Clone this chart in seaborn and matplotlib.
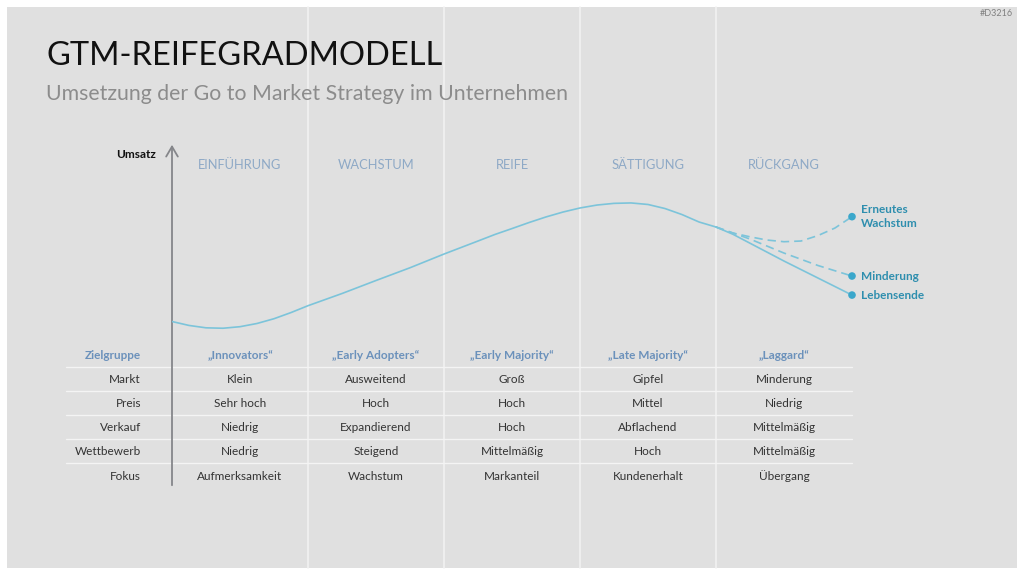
import matplotlib
matplotlib.use("Agg")
import matplotlib.pyplot as plt
import matplotlib.transforms as mtrans
import seaborn as sns

# ---------------- data ----------------
phases = ["EINFÜHRUNG", "WACHSTUM", "REIFE", "SÄTTIGUNG", "RÜCKGANG"]
zielgruppen = ["„Innovators“", "„Early Adopters“", "„Early Majority“", "„Late Majority“", "„Laggard“"]
row_labels = ["Markt", "Preis", "Verkauf", "Wettbewerb", "Fokus"]
table_values = [
    ["Klein", "Ausweitend", "Groß", "Gipfel", "Minderung"],
    ["Sehr hoch", "Hoch", "Hoch", "Mittel", "Niedrig"],
    ["Niedrig", "Expandierend", "Hoch", "Abflachend", "Mittelmäßig"],
    ["Niedrig", "Steigend", "Mittelmäßig", "Hoch", "Mittelmäßig"],
    ["Aufmerksamkeit", "Wachstum", "Markanteil", "Kundenerhalt", "Übergang"],
]

# main sales curve (time in phase units, Umsatz index)
main_t = [0, 0.125, 0.25, 0.375, 0.5, 0.625, 0.75, 0.875, 1.0, 1.25, 1.5, 1.75, 2.0, 2.25,
          2.375, 2.5, 2.625, 2.75, 2.875, 3.0, 3.125, 3.25, 3.375, 3.5, 3.625, 3.75, 3.875, 4.0]
main_v = [13.2, 10.4, 8.7, 8.4, 9.5, 11.8, 15.2, 19.6, 24.5, 33.2, 42.5, 51.6, 61.4, 70.7,
          75.4, 79.6, 83.9, 87.9, 91.4, 94.3, 96.4, 97.6, 97.9, 96.8, 93.9, 89.6, 84.3, 80.7]

# branches after the saturation phase
leb_t = [4.0, 4.125, 4.5, 5.0]
leb_v = [80.7, 75.5, 56.4, 32.1]
min_t = [4.0, 4.25, 4.5, 4.75, 5.0]
min_v = [80.7, 72.1, 62.1, 53.2, 45.7]
ern_t = [4.0, 4.125, 4.25, 4.375, 4.5, 4.625, 4.75, 4.875, 5.0]
ern_v = [80.7, 76.4, 73.7, 71.4, 70.2, 70.7, 74.6, 80.0, 88.1]

end_labels = ["Erneutes\nWachstum", "Minderung", "Lebensende"]
end_t = [5.0, 5.0, 5.0]
end_v = [88.1, 45.7, 32.1]

# ---------------- styling ----------------
sns.set_theme(style="white")
plt.rcParams["font.family"] = ["Lato", "DejaVu Sans"]

PANEL = "#e0e0e0"
LINE = "#7cc4da"
DOT = "#3ba7cb"
LABEL = "#2e8eae"
PHASE = "#8ea9c6"
HEAD = "#6b91bb"
TEXT = "#333333"

fig = plt.figure(figsize=(10.24, 5.76), dpi=100)
fig.patch.set_facecolor("white")

# layout axes in pixel units
bg = fig.add_axes([0, 0, 1, 1])
bg.set_xlim(0, 1024)
bg.set_ylim(576, 0)
bg.axis("off")
bg.add_patch(plt.Rectangle((7, 7), 1010, 561, facecolor=PANEL, edgecolor="none", zorder=0))

# chart axes: x = phase units (0..5), y = Umsatz index
ax = fig.add_axes([172 / 1024, (576 - 340) / 576, 680 / 1024, 140 / 576])
ax.set_xlim(0, 5)
ax.set_ylim(0, 100)
ax.axis("off")
ax.patch.set_alpha(0)

blend = mtrans.blended_transform_factory(ax.transData, bg.transData)

# phase separators
for b in range(1, 5):
    bg.plot([b, b], [7, 568], color="#f2f2f2", lw=1.2, transform=blend, zorder=1)

# table separator lines
for y in [367, 391, 415, 439, 463]:
    bg.plot([66, 852], [y, y], color="#f4f4f4", lw=1.0, zorder=1)

# axis arrow
bg.annotate("", xy=(172, 142), xytext=(172, 488),
            arrowprops=dict(arrowstyle="->,head_length=0.6,head_width=0.35", color="#85868a", lw=1.3),
            zorder=3)
bg.text(156, 155, "Umsatz", ha="right", va="center", fontsize=8.5, fontweight="bold", color="#111111")

# title
bg.text(46, 56, "GTM-REIFEGRADMODELL", ha="left", va="center", fontsize=23.5, color="#111111")
bg.text(46, 94.5, "Umsetzung der Go to Market Strategy im Unternehmen", ha="left", va="center",
        fontsize=15.3, color="#8c8c8c")
bg.text(1013, 13, "#D3216", ha="right", va="center", fontsize=6.5, color="#808080")

# curves
sns.lineplot(x=main_t, y=main_v, ax=ax, color=LINE, lw=1.2, zorder=4)
sns.lineplot(x=leb_t, y=leb_v, ax=ax, color=LINE, lw=1.2, zorder=4)
sns.lineplot(x=min_t, y=min_v, ax=ax, color=LINE, lw=1.2, zorder=4, linestyle=(0, (5, 3)))
sns.lineplot(x=ern_t, y=ern_v, ax=ax, color=LINE, lw=1.2, zorder=4, linestyle=(0, (5, 3)))
sns.scatterplot(x=end_t, y=end_v, ax=ax, color=DOT, s=30, edgecolor="none", zorder=5, clip_on=False)
for lab, t, v in zip(end_labels, end_t, end_v):
    ax.annotate(lab, xy=(t, v), xytext=(6.5, 0), textcoords="offset points", ha="left", va="center",
                fontsize=8.5, fontweight="bold", color=LABEL, annotation_clip=False, linespacing=1.3)

# phase headers and table
for i, ph in enumerate(phases):
    c = i + 0.5
    bg.text(c, 165, ph, transform=blend, ha="center", va="center", fontsize=9.3, color=PHASE)
    bg.text(c, 355.5, zielgruppen[i], transform=blend, ha="center", va="center", fontsize=8.5,
            fontweight="bold", color=HEAD)

bg.text(141, 355.5, "Zielgruppe", ha="right", va="center", fontsize=8.5, fontweight="bold", color=HEAD)
row_y = [379.5, 403.5, 427.5, 451.5, 476.5]
for r, lab in enumerate(row_labels):
    bg.text(141, row_y[r], lab, ha="right", va="center", fontsize=8.5, color=TEXT)
    for i, val in enumerate(table_values[r]):
        bg.text(i + 0.5, row_y[r], val, transform=blend, ha="center", va="center", fontsize=8.5, color=TEXT)

fig.savefig("out.png", dpi=100, facecolor="white")
